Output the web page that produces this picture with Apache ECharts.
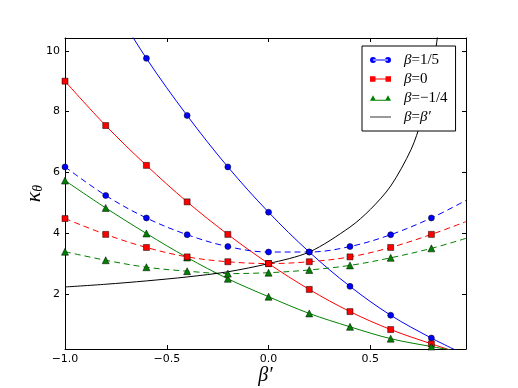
<!DOCTYPE html>
<html>
<head>
<meta charset="utf-8">
<script src="https://cdn.jsdelivr.net/npm/echarts@6/dist/echarts.min.js"></script>
<style>
  html, body { margin: 0; padding: 0; background: #fff; }
  #chart { width: 518px; height: 388px; }
</style>
</head>
<body>
<div id="chart"></div>
<script>
// marker positions along beta'
const betaMarks = [-1.0, -0.8, -0.6, -0.4, -0.2, 0.0, 0.2, 0.4, 0.6, 0.8];

// solid curves (marker values), with unmarked extensions to the frame
const kappaSolidFifth = [null, null, 9.75, 7.87, 6.18, 4.69, 3.38, 2.25, 1.30, 0.55];
const kappaSolidFifthEnds = [[-0.8, 11.9], [0.97, -0.01]];
const kappaSolidZero = [9.0, 7.54, 6.23, 5.03, 3.96, 3.00, 2.15, 1.42, 0.83, 0.36];
const kappaSolidZeroEnds = [null, [0.97, -0.01]];
const kappaSolidQuarter = [5.73, 4.83, 3.99, 3.2, 2.50, 1.91, 1.36, 0.92, 0.53, 0.27];
const kappaSolidQuarterEnds = [null, [0.97, 0.07]];

// dashed curves
const kappaDashFifth = [6.18, 5.24, 4.50, 3.95, 3.56, 3.38, 3.38, 3.56, 3.95, 4.50];
const kappaDashFifthEnds = [null, [0.97, 5.08]];
const kappaDashZero = [4.48, 3.96, 3.53, 3.22, 3.06, 3.00, 3.06, 3.22, 3.53, 3.96];
const kappaDashZeroEnds = [null, [0.97, 4.38]];
const kappaDashQuarter = [3.39, 3.11, 2.88, 2.75, 2.67, 2.70, 2.79, 2.94, 3.19, 3.50];
const kappaDashQuarterEnds = [null, [0.97, 3.83]];

// beta = beta'
const diagBeta = [-1.0, -0.8, -0.6, -0.4, -0.2, 0.0, 0.2, 0.4, 0.5, 0.6, 0.7, 0.75, 0.8, 0.84];
const diagKappa = [2.23, 2.32, 2.43, 2.56, 2.73, 3.0, 3.38, 4.2, 4.78, 5.55, 6.75, 7.7, 9.1, 11.0];

const xTicks = [-1.0, -0.5, 0.0, 0.5];
const yTicks = [2, 4, 6, 8, 10];

const serif = 'Liberation Serif';
const sans = 'DejaVu Sans';

const build = (xs, ys, ends) => {
  const out = [];
  if (ends && ends[0]) out.push({ value: ends[0], symbol: 'none' });
  xs.forEach((x, i) => { if (ys[i] != null) out.push([x, ys[i]]); });
  if (ends && ends[1]) out.push({ value: ends[1], symbol: 'none' });
  return out;
};

const lineSeries = (name, color, symbol, data, dashed) => ({
  name: name,
  type: 'line',
  smooth: 0.35,
  data: data,
  symbol: symbol,
  symbolSize: symbol === 'triangle' ? 7 : 6,
  showAllSymbol: true,
  clip: true,
  lineStyle: { color: color, width: 1, type: dashed ? [6, 4] : 'solid' },
  itemStyle: { color: color, borderColor: '#000', borderWidth: 0.5 },
  emphasis: { disabled: true },
  animation: false
});

const near = (list, v) => list.some(t => Math.abs(t - v) < 1e-6);

const chart = echarts.init(document.getElementById('chart'));

const iconCircle = 'path://M0,6a6,6 0 1,0 12,0a6,6 0 1,0 -12,0z M30,6a6,6 0 1,0 12,0a6,6 0 1,0 -12,0z M6,5h30v2h-30z';
const iconSquare = 'path://M0,0h11v11h-11z M31,0h11v11h-11z M6,4.5h30v2h-30z';
const iconTri = 'path://M0,11L6,0L12,11z M30,11L36,0L42,11z M6,9h30v2h-30z';
const iconLine = 'path://M0,0h42v1.6h-42z';

const frameAxis = {
  axisLine: { show: true, onZero: false, lineStyle: { color: '#000', width: 1 } },
  axisTick: { show: true, inside: true, length: 4, lineStyle: { color: '#000' } },
  splitLine: { show: false }
};

chart.setOption({
  backgroundColor: '#fff',
  grid: { left: 65, right: 52, top: 38, bottom: 39, show: false, containLabel: false, outerBoundsMode: 'none' },
  legend: {
    orient: 'vertical',
    left: 362,
    top: 46,
    padding: [6, 8, 6, 8],
    itemGap: 3,
    itemWidth: 21,
    itemHeight: 6,
    backgroundColor: '#fff',
    borderColor: '#000',
    borderWidth: 1,
    borderRadius: 0,
    selectedMode: false,
    itemStyle: { borderWidth: 0 },
    textStyle: {
      fontFamily: serif,
      fontSize: 15,
      color: '#000',
      padding: [0, 0, 0, 8],
      lineHeight: 16,
      rich: {
        i: { fontFamily: serif, fontStyle: 'italic', fontSize: 15, color: '#000' },
        r: { fontFamily: serif, fontSize: 15, color: '#000' }
      }
    },
    data: [
      { name: 'b15', icon: iconCircle },
      { name: 'b0', icon: iconSquare },
      { name: 'bq', icon: iconTri },
      { name: 'bb', icon: iconLine }
    ],
    formatter: name => ({
      b15: '{i|β}{r|=1/5}',
      b0: '{i|β}{r|=0}',
      bq: '{i|β}{r|=\u22121/4}',
      bb: '{i|β}{r|=}{i|β′}'
    })[name]
  },
  xAxis: [
    Object.assign({}, frameAxis, {
      type: 'value',
      min: -1.0,
      max: 0.97,
      splitNumber: 4,
      name: 'β′',
      nameLocation: 'middle',
      nameGap: 17,
      nameMoveOverlap: false,
      nameTextStyle: { fontFamily: serif, fontStyle: 'italic', fontSize: 20, color: '#000' },
      axisLabel: {
        fontFamily: sans, fontSize: 11, color: '#000', margin: 5,
        showMaxLabel: false,
        formatter: v => near(xTicks, v) ? v.toFixed(1).replace('-', '\u2212') : ''
      }
    }),
    Object.assign({}, frameAxis, {
      type: 'value',
      position: 'top',
      min: -1.0,
      max: 0.97,
      splitNumber: 4,
      axisLabel: { show: false }
    })
  ],
  yAxis: [
    Object.assign({}, frameAxis, {
      type: 'value',
      min: 0.19,
      max: 10.42,
      splitNumber: 5,
      name: '{k|κ}{s|θ}',
      nameLocation: 'middle',
      nameGap: 20,
      nameMoveOverlap: false,
      nameRotate: 90,
      nameTextStyle: {
        rich: {
          k: { fontFamily: serif, fontStyle: 'italic', fontSize: 22, color: '#000' },
          s: { fontFamily: serif, fontStyle: 'italic', fontSize: 14, color: '#000', padding: [8, 0, 0, 0] }
        }
      },
      axisLabel: {
        fontFamily: sans, fontSize: 11, color: '#000', margin: 5,
        showMinLabel: false, showMaxLabel: false,
        formatter: v => near(yTicks, v) ? String(Math.round(v)) : ''
      }
    }),
    Object.assign({}, frameAxis, {
      type: 'value',
      position: 'right',
      min: 0.19,
      max: 10.42,
      splitNumber: 5,
      axisLabel: { show: false }
    })
  ],
  series: [
    lineSeries('b15', '#0000ff', 'circle', build(betaMarks, kappaSolidFifth, kappaSolidFifthEnds), false),
    lineSeries('b0', '#ff0000', 'rect', build(betaMarks, kappaSolidZero, kappaSolidZeroEnds), false),
    lineSeries('bq', '#008000', 'triangle', build(betaMarks, kappaSolidQuarter, kappaSolidQuarterEnds), false),
    lineSeries('b15 dashed', '#0000ff', 'circle', build(betaMarks, kappaDashFifth, kappaDashFifthEnds), true),
    lineSeries('b0 dashed', '#ff0000', 'rect', build(betaMarks, kappaDashZero, kappaDashZeroEnds), true),
    lineSeries('bq dashed', '#008000', 'triangle', build(betaMarks, kappaDashQuarter, kappaDashQuarterEnds), true),
    {
      name: 'bb',
      type: 'line',
      smooth: 0.3,
      symbol: 'none',
      clip: true,
      data: diagBeta.map((x, i) => [x, diagKappa[i]]),
      lineStyle: { color: '#000', width: 1 },
      itemStyle: { color: '#000' },
      emphasis: { disabled: true },
      animation: false
    }
  ]
});
</script>
</body>
</html>
